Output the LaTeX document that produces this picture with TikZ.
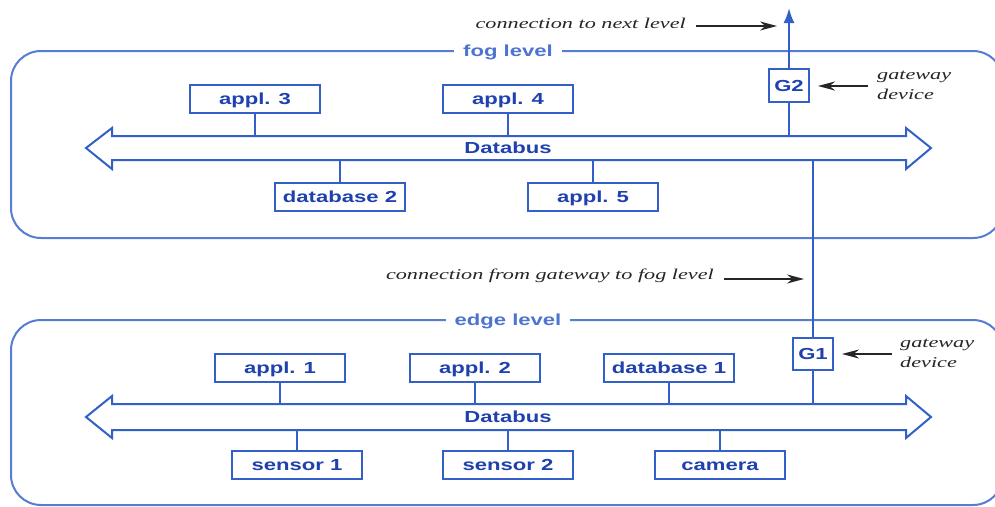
\documentclass[tikz,border=0pt]{standalone}
\usepackage{fontspec}
\setmainfont{Liberation Serif}
\newfontfamily\lsans{Liberation Sans}
\usepackage{graphicx}
\usetikzlibrary{arrows.meta}
\definecolor{lineblue}{RGB}{50,95,200}
\definecolor{textblue}{RGB}{30,65,175}
\definecolor{frameblue}{RGB}{85,125,212}
\newcommand{\wx}[1]{\scalebox{1.38}[1]{#1}}
\newcommand{\wi}[1]{\scalebox{1.48}[1]{#1}}
\begin{document}
\begin{tikzpicture}[x=1pt,y=-1pt,
  box/.style={draw=lineblue,line width=2pt,fill=white,minimum width=130pt,
    minimum height=28pt,inner sep=0pt,text=textblue,text height=11.5pt,text depth=0pt,
    font=\lsans\bfseries\fontsize{16}{18}\selectfont},
  gwbox/.style={box,minimum width=40pt,minimum height=32pt},
  frame/.style={draw=frameblue,line width=2pt,rounded corners=30pt},
  levellabel/.style={fill=white,inner xsep=9pt,inner ysep=4pt,text=frameblue!85!textblue,
    text height=11.5pt,text depth=0pt,
    font=\lsans\bfseries\fontsize{16}{18}\selectfont},
  busshape/.style={draw=lineblue,line width=2pt,fill=white,line join=miter},
  buslabel/.style={inner sep=0pt,text=textblue,text height=11.5pt,text depth=0pt,
    font=\lsans\bfseries\fontsize{16}{18}\selectfont},
  wire/.style={draw=lineblue,line width=2pt},
  upwire/.style={wire,-{Latex[length=15pt,width=11pt]}},
  note/.style={inner sep=0pt,font=\itshape\fontsize{15}{20}\selectfont,text=black!85},
  pointer/.style={draw=black!85,line width=1.6pt,-{Stealth[length=17pt,width=9pt]}}
]
\clip (0,0) rectangle (995,506);
\fill[white] (0,0) rectangle (995,506);

% ---------- fog level ----------
\draw[frame] (11,51) rectangle (1003,238);
\node[levellabel] (foglab) at (508,51) {\wx{fog level}};

\draw[busshape] (86,148) -- (112,128) -- (112,136) -- (906,136) -- (906,128)
  -- (931,148) -- (906,169) -- (906,160) -- (112,160) -- (112,169) -- cycle;
\node[buslabel] (fbus) at (508,148) {\wx{Databus}};
\coordinate (fbtop) at (0,136);
\coordinate (fbbot) at (0,160);

\node[box] (a3) at (255,99) {\wx{appl. 3}};
\node[box] (a4) at (508,99) {\wx{appl. 4}};
\node[box] (db2) at (340,197) {\wx{database 2}};
\node[box] (a5) at (593,197) {\wx{appl. 5}};
\node[gwbox,minimum height=33pt] (g2) at (789,85.5) {\wx{G2}};

\draw[wire] (a3.south) -- (a3.south |- fbtop);
\draw[wire] (a4.south) -- (a4.south |- fbtop);
\draw[wire] (db2.north) -- (db2.north |- fbbot);
\draw[wire] (a5.north) -- (a5.north |- fbbot);
\draw[wire] (g2.south) -- (g2.south |- fbtop);
\coordinate (nexttop) at (789,8);
\draw[upwire] (g2.north) -- (nexttop);

% ---------- edge level ----------
\draw[frame] (11,320) rectangle (1003,505);
\node[levellabel] (edgelab) at (508,320) {\wx{edge level}};

\draw[busshape] (86,417) -- (112,396) -- (112,404) -- (906,404) -- (906,396)
  -- (931,417) -- (906,438) -- (906,430) -- (112,430) -- (112,438) -- cycle;
\node[buslabel] (ebus) at (508,417) {\wx{Databus}};
\coordinate (ebtop) at (0,404);
\coordinate (ebbot) at (0,430);

\node[box] (a1) at (280,368) {\wx{appl. 1}};
\node[box] (a2) at (475,368) {\wx{appl. 2}};
\node[box] (db1) at (669,368) {\wx{database 1}};
\node[box] (s1) at (297,465) {\wx{sensor 1}};
\node[box] (s2) at (508,465) {\wx{sensor 2}};
\node[box] (cam) at (720,465) {\wx{camera}};
\node[gwbox] (g1) at (813,354) {\wx{G1}};

\draw[wire] (a1.south) -- (a1.south |- ebtop);
\draw[wire] (a2.south) -- (a2.south |- ebtop);
\draw[wire] (db1.south) -- (db1.south |- ebtop);
\draw[wire] (s1.north) -- (s1.north |- ebbot);
\draw[wire] (s2.north) -- (s2.north |- ebbot);
\draw[wire] (cam.north) -- (cam.north |- ebbot);
\draw[wire] (g1.south) -- (g1.south |- ebtop);
\draw[wire] (g1.north) -- (g1.north |- fbbot);

% ---------- annotations ----------
\node[note,anchor=east] (nextlab) at (686,23) {\wi{connection to next level}};
\coordinate (nextstart) at (696,26);
\coordinate (nextend) at (777,26);
\draw[pointer] (nextstart) -- (nextend);

\node[note,anchor=east] (fromlab) at (714,276) {\wi{connection from gateway to fog level}};
\coordinate (fromstart) at (724,279);
\coordinate (fromend) at (804,279);
\draw[pointer] (fromstart) -- (fromend);

\node[note,anchor=west,align=left] (gw2lab) at (877,85) {\wi{gateway}\\\wi{device}};
\coordinate (gw2start) at (868,86);
\coordinate (gw2end) at (818,86);
\draw[pointer] (gw2start) -- (gw2end);

\node[note,anchor=west,align=left] (gw1lab) at (900,353) {\wi{gateway}\\\wi{device}};
\coordinate (gw1start) at (892,354);
\coordinate (gw1end) at (842,354);
\draw[pointer] (gw1start) -- (gw1end);
\end{tikzpicture}
\end{document}
